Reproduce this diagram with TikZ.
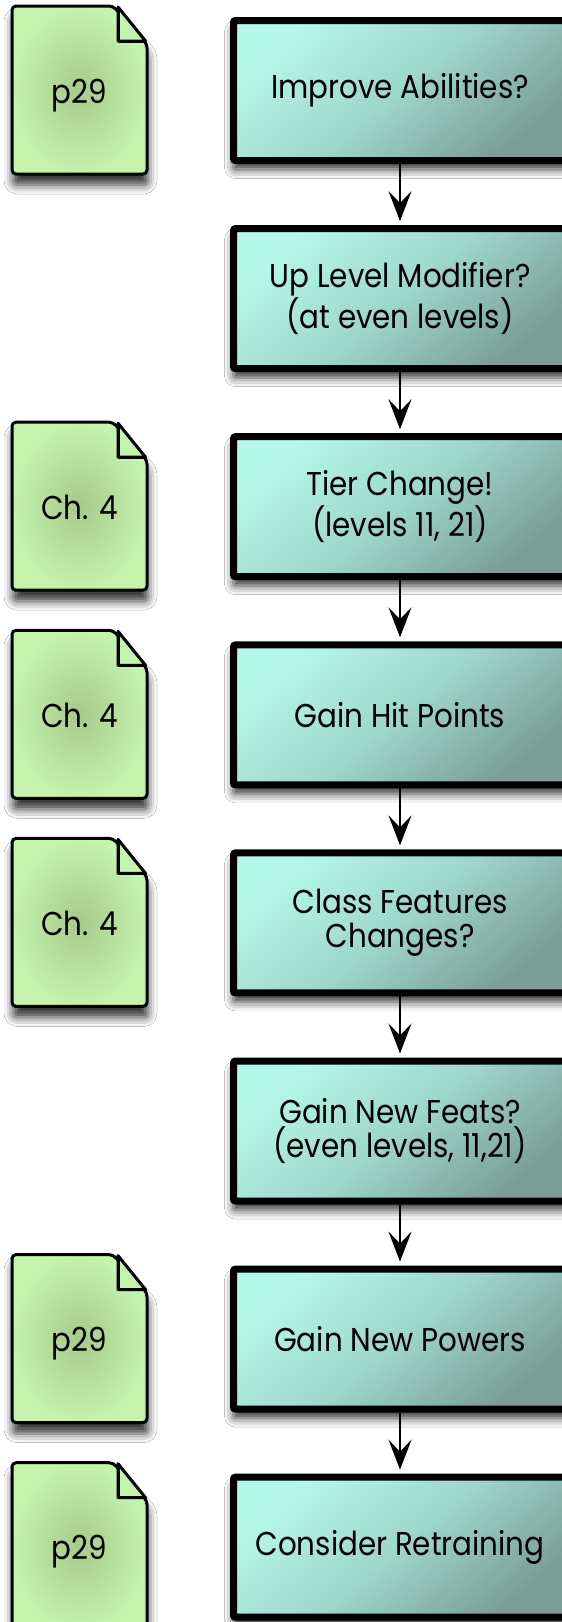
\documentclass[tikz,border=0pt]{standalone}
\usepackage{fontspec}
\setmainfont{Poppins}[FakeStretch=0.89]
\usetikzlibrary{arrows.meta,shadows.blur}
\definecolor{boxA}{RGB}{180,248,234}
\definecolor{boxM}{RGB}{158,214,202}
\definecolor{boxB}{RGB}{122,158,150}
\definecolor{docIn}{RGB}{166,202,138}
\definecolor{docOut}{RGB}{196,243,174}
\tikzset{
  stepbox/.style={rectangle, draw=black, line width=7pt, rounded corners=2pt,
    minimum width=333pt, minimum height=140pt, inner sep=0pt,
    top color=boxA, bottom color=boxB, middle color=boxM, shading angle=40, align=center,
    font=\fontsize{33}{34}\selectfont,
    blur shadow={shadow xshift=0pt, shadow yshift=-9pt, shadow blur radius=9pt, shadow opacity=80}},
  flowarrow/.style={line width=2pt, draw=black, shorten >=4pt,
    -{Stealth[length=30pt, width=23pt, inset=12pt]}},
  docshape/.style={draw=black, line width=3pt, rounded corners=4pt, line join=round,
    inner color=docIn, outer color=docOut,
    blur shadow={shadow xshift=1pt, shadow yshift=-11pt, shadow blur radius=9pt, shadow opacity=80}},
  docfold/.style={draw=black, line width=3pt, line join=round},
  doctext/.style={font=\fontsize{33}{34}\selectfont, inner sep=0pt, anchor=base},
  docicon/.pic={
    \path[docshape] (-67.5,-84) -- (33.5,-84) -- (67.5,-46) -- (67.5,84) -- (-67.5,84) -- cycle;
    \path[docfold, fill=docOut] (38.5,-83) -- (38.5,-49) -- (66,-49) -- cycle;
    \path[docfold] (38.5,-83) -- (38.5,-49) -- (66,-49);
    \node[doctext] (-t) at (0,13) {#1};
  }
}
\begin{document}
\begin{tikzpicture}[x=1pt,y=-1pt]
\useasboundingbox (0,0) rectangle (562,1622);
\fill[white] (0,0) rectangle (562,1622);
\node[stepbox] (b1) at (400,90.5) {Improve Abilities?};
\node[stepbox] (b2) at (400,298.6) {Up Level Modifier?\\(at even levels)};
\node[stepbox] (b3) at (400,506.7) {Tier Change!\\(levels 11, 21)};
\node[stepbox] (b4) at (400,714.8) {Gain Hit Points};
\node[stepbox] (b5) at (400,922.9) {Class Features\\Changes?};
\node[stepbox] (b6) at (400,1131) {Gain New Feats?\\(even levels, 11,21)};
\node[stepbox] (b7) at (400,1339.1) {Gain New Powers};
\node[stepbox] (b8) at (400,1547.2) {Consider Retraining};
\pic (d1) at (79.5,90) {docicon=p29};
\pic (d3) at (79.5,506.2) {docicon=Ch. 4};
\pic (d4) at (79.5,714.3) {docicon=Ch. 4};
\pic (d5) at (79.5,922.4) {docicon=Ch. 4};
\pic (d7) at (79.5,1338.6) {docicon=p29};
\pic (d8) at (79.5,1546.7) {docicon=p29};
\draw[flowarrow] (b1) -- (b2);
\draw[flowarrow] (b2) -- (b3);
\draw[flowarrow] (b3) -- (b4);
\draw[flowarrow] (b4) -- (b5);
\draw[flowarrow] (b5) -- (b6);
\draw[flowarrow] (b6) -- (b7);
\draw[flowarrow] (b7) -- (b8);
\end{tikzpicture}
\end{document}
